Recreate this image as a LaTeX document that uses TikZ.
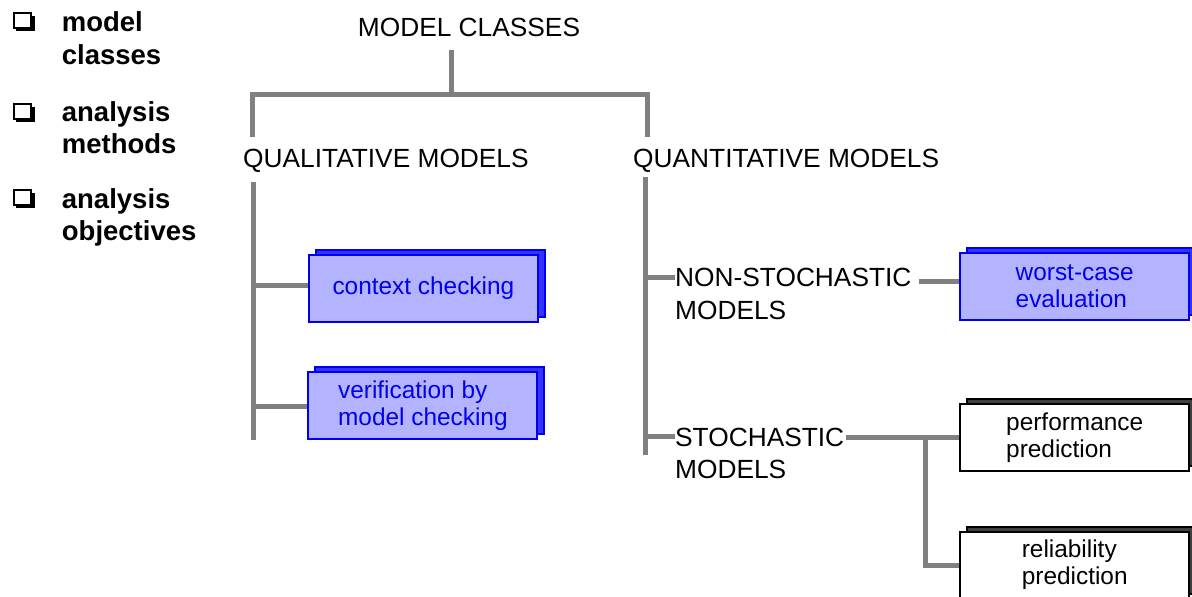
\documentclass[tikz,border=0pt]{standalone}
\usepackage{fontspec}
\setmainfont{Liberation Sans}
\usetikzlibrary{shadows}
\definecolor{linegray}{RGB}{128,128,128}
\definecolor{boxblue}{RGB}{179,179,255}
\definecolor{edgeblue}{RGB}{0,0,238}
\definecolor{shadeblue}{RGB}{51,51,255}
\definecolor{shadegray}{RGB}{64,64,64}
\tikzset{
  gl/.style={draw=linegray, line width=5pt},
  cat/.style={inner sep=0pt, font=\fontsize{26.3}{32.5}\selectfont, align=left},
  item/.style={inner sep=0pt, font=\fontsize{27.5}{32.5}\selectfont\bfseries, align=left, anchor=north west},
  bluebox/.style={draw=edgeblue, line width=2pt, fill=boxblue, text=edgeblue,
    minimum width=229pt, minimum height=67pt, inner sep=0pt, align=left,
    font=\fontsize{24.4}{27}\selectfont,
    general shadow={shadow xshift=7pt, shadow yshift=5pt, fill=shadeblue, draw=edgeblue, line width=2pt}},
  whitebox/.style={draw=black, line width=2pt, fill=white, text=black,
    minimum width=229pt, minimum height=67pt, inner sep=0pt, align=left,
    font=\fontsize{24.4}{27}\selectfont,
    general shadow={shadow xshift=7pt, shadow yshift=5pt, fill=shadegray, draw=black, line width=2pt}},
}
\begin{document}
\begin{tikzpicture}[x=1pt, y=-1pt]
\useasboundingbox[fill=white] (0,0) rectangle (1192,597);

% left list checkboxes
\foreach \yy in {0, 91, 177}{
  \fill[black] (16,15.5+\yy) rectangle (34.5,31+\yy);
  \draw[fill=white, line width=1.8pt] (13.8,12.8+\yy) rectangle (31,28+\yy);
}
\node[item] (i1) at (61.7,11.5) {model\\classes};
\node[item] (i2) at (61.7,101) {analysis\\methods};
\node[item] (i3) at (61.7,188) {analysis\\objectives};

% category texts
\node[cat, anchor=base] (mc) at (469,36) {MODEL CLASSES};
\node[cat, anchor=base west] (ql) at (243,167) {QUALITATIVE MODELS};
\node[cat, anchor=base west] (qt) at (633,167) {QUANTITATIVE MODELS};
\node[cat, anchor=north west] (ns) at (675,268) {NON-STOCHASTIC\\MODELS};
\node[cat, anchor=north west] (st) at (675,427.5) {STOCHASTIC\\MODELS};

% boxes
\node[bluebox] (ctx) at (423.4,288.4) {context checking};
\node[bluebox] (ver) at (422.9,405.4) {verification by\\model checking};
\node[bluebox] (wc) at (1074.7,286.2) {worst-case\\evaluation};
\node[whitebox] (perf) at (1074.7,437.9) {performance\\prediction};
\node[whitebox] (rel) at (1074.7,565) {reliability\\prediction};

% junction coordinates
\coordinate (s0) at (451,50);
\coordinate (s1) at (451,94);
\coordinate (bl) at (252,137);
\coordinate (br) at (647,137);
\coordinate (lt) at (253,182);
\coordinate (lb) at (253,440);
\coordinate (lj1) at (253,285);
\coordinate (lj2) at (253,406);
\coordinate (rt) at (645,177);
\coordinate (rb) at (645,455);
\coordinate (rj1) at (645,277.7);
\coordinate (rj2) at (645,436.7);
\coordinate (nse) at (919,281);
\coordinate (ste) at (846,437);
\coordinate (stj) at (925,437);

% connectors
\draw[gl] (s0) -- (s1);
\draw[gl] (bl) |- (s1) -| (br);
\draw[gl] (lt) -- (lb);
\draw[gl] (lj1) -- (lj1 -| ctx.west);
\draw[gl] (lj2) -- (lj2 -| ver.west);
\draw[gl] (rt) -- (rb);
\draw[gl] (rj1) -- (rj1 -| ns.west);
\draw[gl] (rj2) -- (rj2 -| st.west);
\draw[gl] (nse) -- (nse -| wc.west);
\draw[gl] (ste) -- (ste -| perf.west);
\draw[gl] (stj) |- (rel.west);
\end{tikzpicture}
\end{document}
